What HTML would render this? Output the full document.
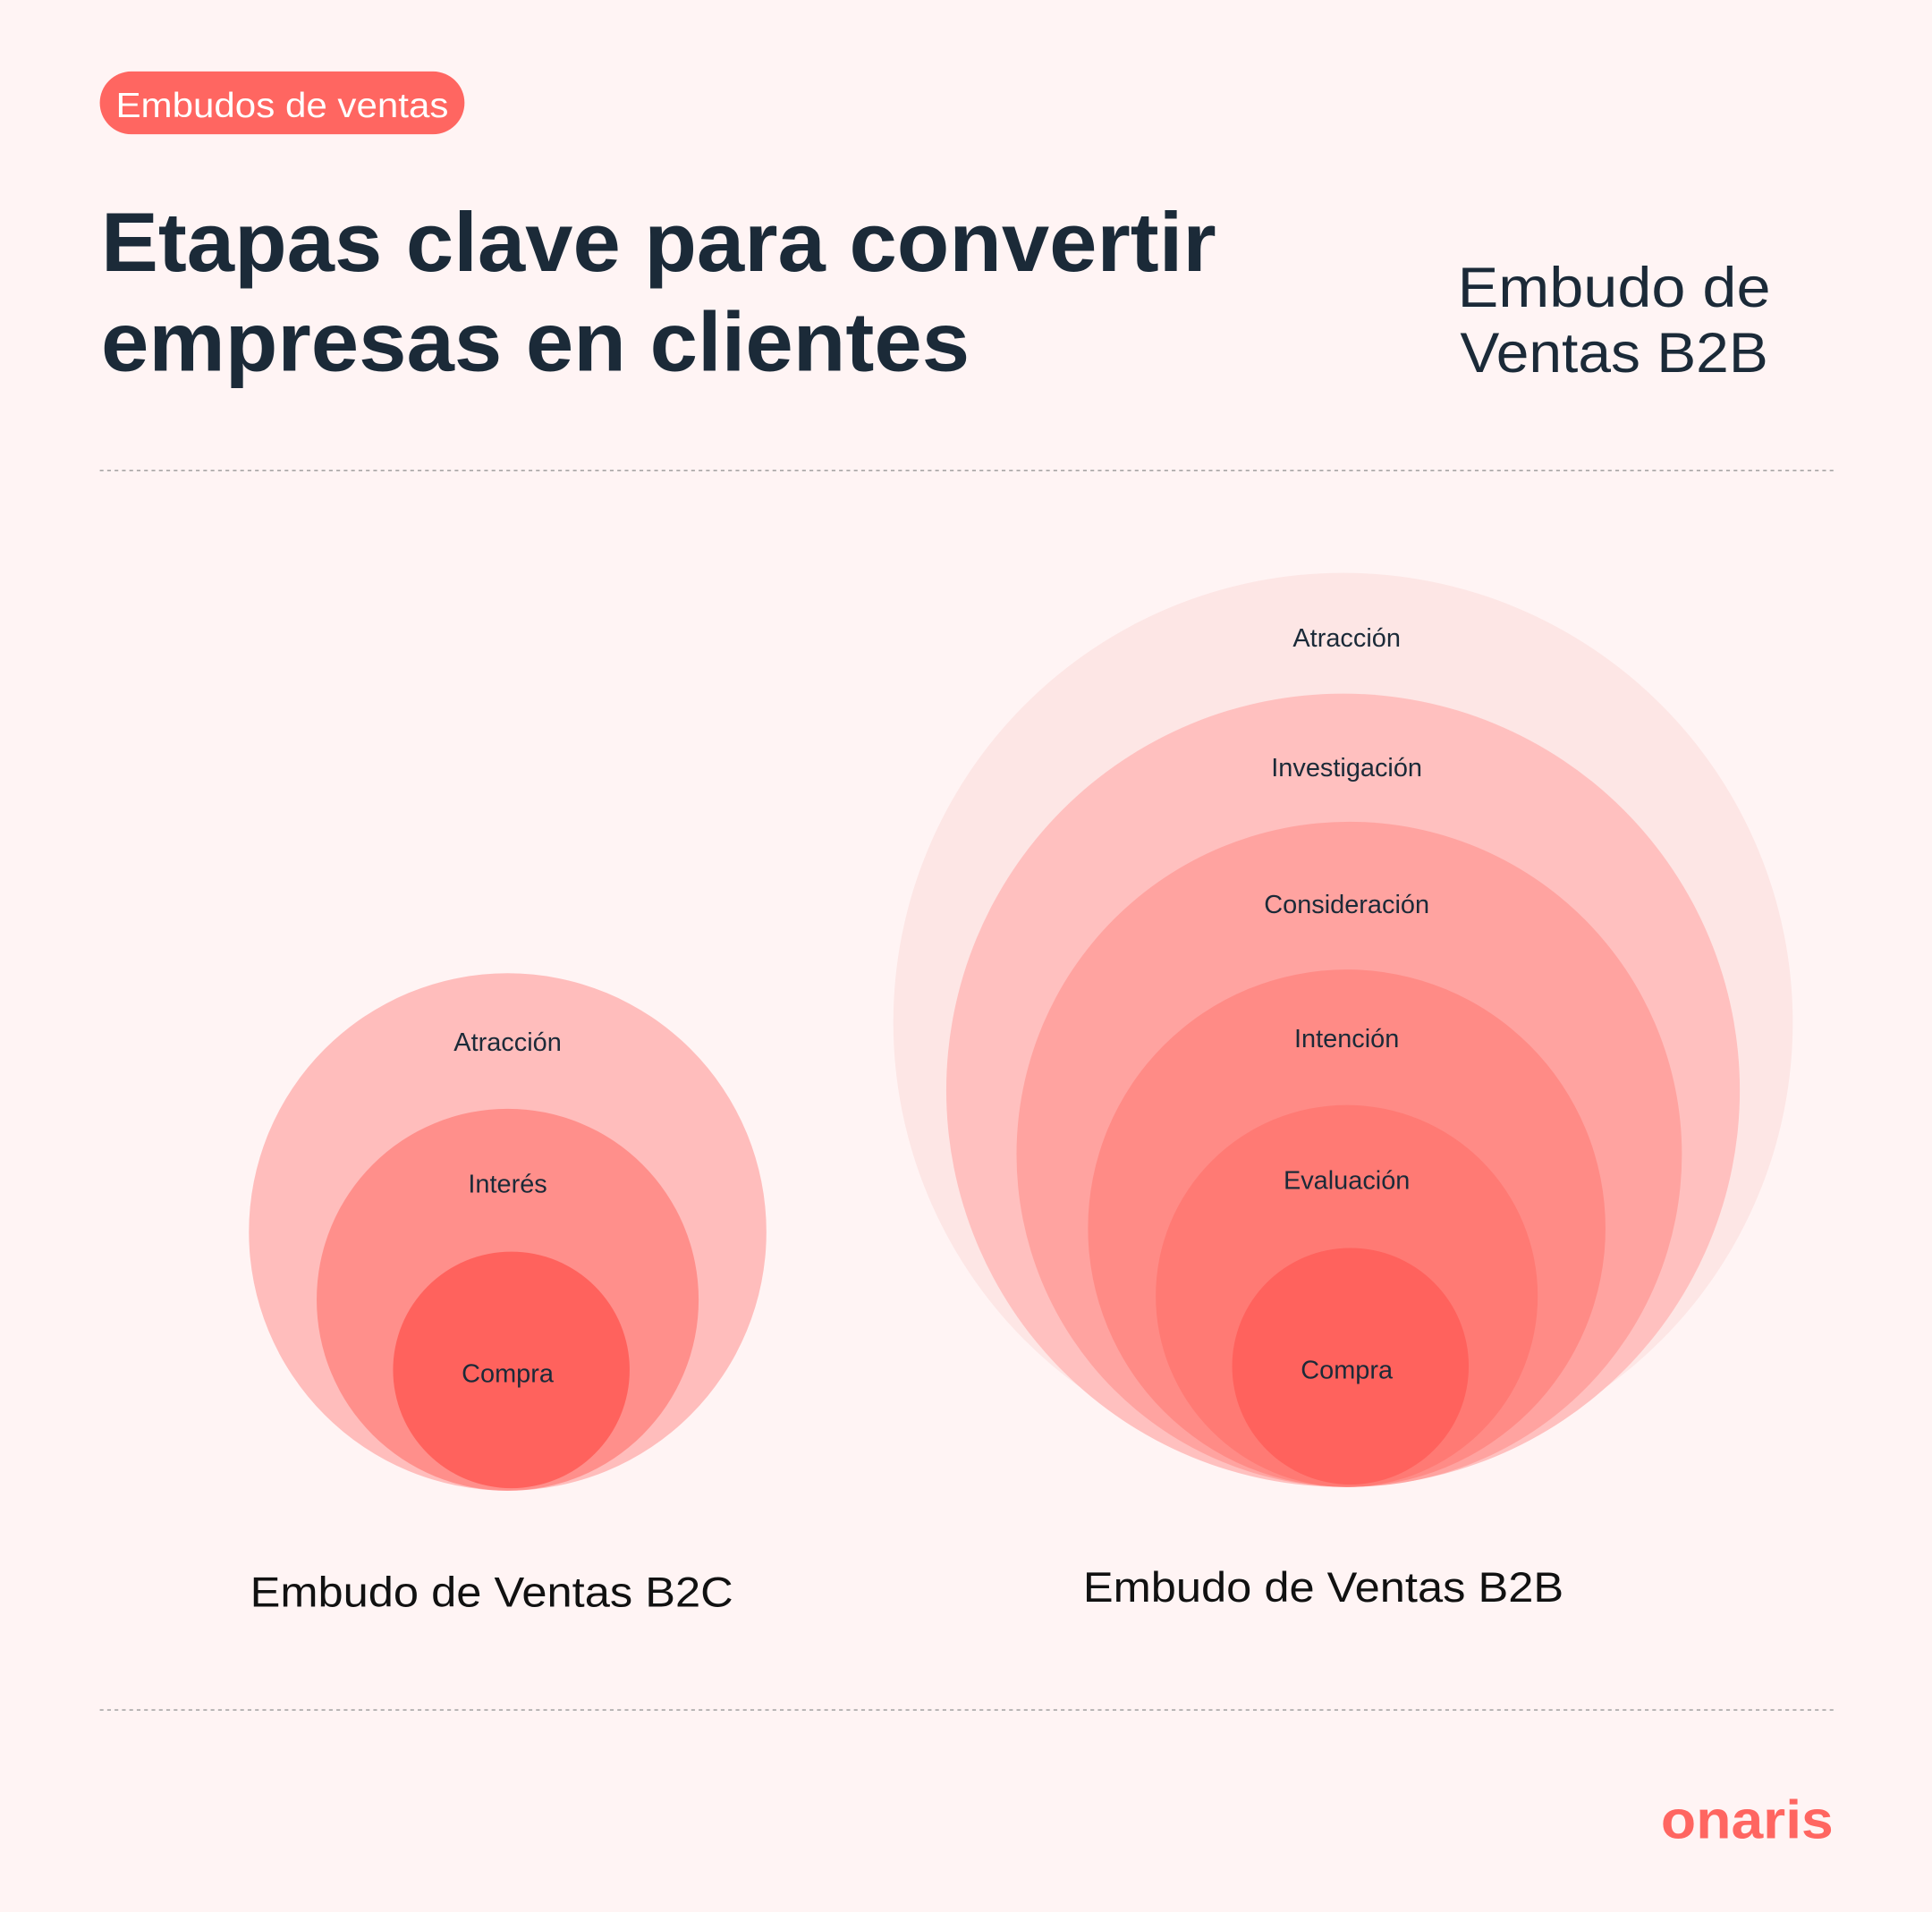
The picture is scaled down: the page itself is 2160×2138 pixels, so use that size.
<!DOCTYPE html>
<html><head><meta charset="utf-8"><style>
html,body{margin:0;padding:0;background:#fff4f4;}
svg{display:block;}
text{font-family:"Liberation Sans",sans-serif;}
</style></head><body>
<svg width="2160" height="2138" viewBox="0 0 1568 1552" xmlns="http://www.w3.org/2000/svg">
<rect width="1568" height="1552" fill="#fff4f4"/>
<rect x="81" y="58" width="296" height="51" rx="25.5" fill="#ff6661"/>
<text x="229" y="95" font-size="28" fill="#fff" text-anchor="middle" textLength="270" lengthAdjust="spacingAndGlyphs">Embudos de ventas</text>
<text x="82" y="220" font-size="68" fill="#1b2a38" font-weight="bold" textLength="905" lengthAdjust="spacingAndGlyphs">Etapas clave para convertir</text>
<text x="82" y="301" font-size="68" fill="#1b2a38" font-weight="bold" textLength="705" lengthAdjust="spacingAndGlyphs">empresas en clientes</text>
<text x="1310" y="249" font-size="46" fill="#1b2a38" text-anchor="middle" textLength="254" lengthAdjust="spacingAndGlyphs">Embudo de</text>
<text x="1310" y="302" font-size="46" fill="#1b2a38" text-anchor="middle" textLength="250" lengthAdjust="spacingAndGlyphs">Ventas B2B</text>
<line x1="81" y1="382" x2="1488" y2="382" stroke="#999" stroke-width="1" stroke-dasharray="3,3"/>
<line x1="81" y1="1388" x2="1488" y2="1388" stroke="#999" stroke-width="1" stroke-dasharray="3,3"/>
<!-- B2C -->
<circle cx="412" cy="1000" r="210" fill="#ffbdbc"/>
<circle cx="412" cy="1055" r="155" fill="#ff8f8b"/>
<circle cx="415" cy="1112" r="96" fill="#ff625d"/>
<g font-size="21" fill="#1b2a38" text-anchor="middle">
<text x="412" y="853">Atracción</text>
<text x="412" y="968">Interés</text>
<text x="412" y="1122">Compra</text>
</g>
<!-- B2B -->
<circle cx="1090" cy="830" r="365" fill="#fde6e5"/>
<circle cx="1090" cy="885" r="322" fill="#ffc0bf"/>
<circle cx="1095" cy="937" r="270" fill="#ffa3a0"/>
<circle cx="1093" cy="997" r="210" fill="#ff8b86"/>
<circle cx="1093" cy="1052" r="155" fill="#ff7a74"/>
<circle cx="1096" cy="1109" r="96" fill="#ff625d"/>
<g font-size="21" fill="#1b2a38" text-anchor="middle">
<text x="1093" y="525">Atracción</text>
<text x="1093" y="630">Investigación</text>
<text x="1093" y="741">Consideración</text>
<text x="1093" y="850">Intención</text>
<text x="1093" y="965">Evaluación</text>
<text x="1093" y="1119">Compra</text>
</g>
<text x="399" y="1304" font-size="34" fill="#111" text-anchor="middle" textLength="392" lengthAdjust="spacingAndGlyphs">Embudo de Ventas B2C</text>
<text x="1074" y="1300" font-size="34" fill="#111" text-anchor="middle" textLength="390" lengthAdjust="spacingAndGlyphs">Embudo de Ventas B2B</text>
<text x="1488" y="1492" font-size="44" fill="#ff6661" font-weight="bold" text-anchor="end" textLength="140" lengthAdjust="spacingAndGlyphs">onaris</text>
</svg>
</body></html>
